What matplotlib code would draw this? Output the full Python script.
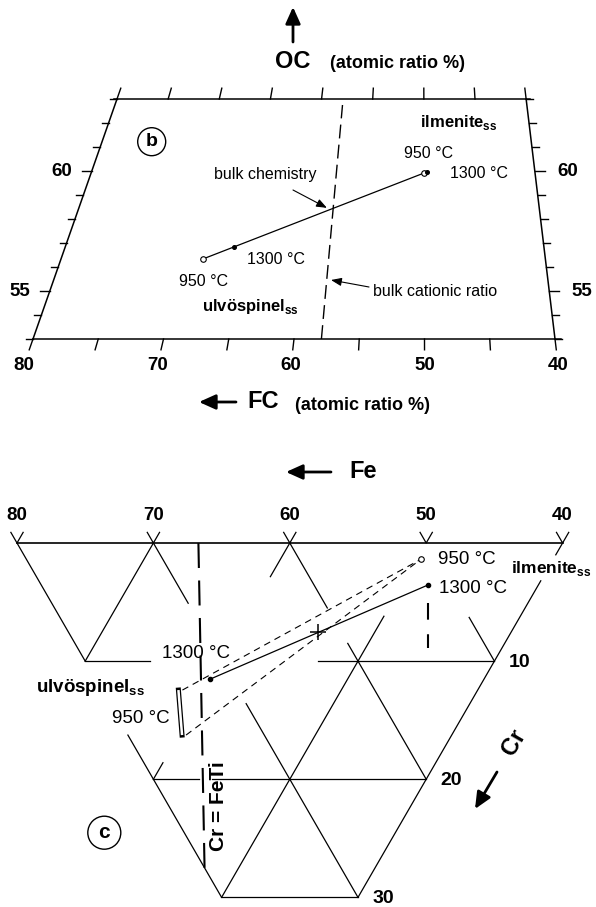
import numpy as np
import matplotlib
matplotlib.use("Agg")
import matplotlib.pyplot as plt
from matplotlib.patches import Circle

plt.rcParams['font.family'] = ['Liberation Sans', 'DejaVu Sans']
plt.rcParams['mathtext.fontset'] = 'custom'
plt.rcParams['mathtext.rm'] = 'Liberation Sans'
plt.rcParams['mathtext.bf'] = 'Liberation Sans:bold'

# ---------------- panel b : FC / OC atomic ratio (%) ----------------
fc_ticks = [80, 75, 70, 65, 60, 55, 50, 45, 40]
fc_labels = [80, 70, 60, 50, 40]
oc_ticks = [53, 54, 55, 56, 57, 58, 59, 60, 61, 62, 63]
oc_labels = [55, 60]

# ulvospinel 950, ulvospinel 1300, ilmenite 950, ilmenite 1300
b_fc = [68.3, 65.9, 50.0, 49.7]
b_oc = [56.33, 56.82, 59.93, 59.97]
b_bulk_fc, b_bulk_oc = 58.0, 58.38
b_cation_fc = [57.9, 57.9]
b_cation_oc = [53.0, 62.75]

# ---------------- panel c : Fe / Cr ----------------
fe_labels = [80, 70, 60, 50, 40]
cr_labels = [10, 20, 30]

c_ilm950 = (49.7, 1.38)
c_ilm1300 = (48.1, 3.56)
c_ulv1300 = (60.1, 11.54)
c_ulv950_fe = [61.94, 59.77]
c_ulv950_cr = [12.45, 16.26]
c_bulk = (54.16, 7.54)
c_ratio_fe = [66.7, 52.5]
c_ratio_cr = [0.0, 27.5]
c_ratio2_fe = [47.3, 45.4]
c_ratio2_cr = [5.1, 8.9]

# grid pieces actually drawn: (constant value, from, to)
grid_fe = [(70, 0, 10), (60, 0, 2.85), (60, 18.6, 20), (50, 6.2, 30),
           (40, 0, 1.0), (40, 3.2, 30)]
grid_sum = [(80, 0, 10), (80, 16.26, 30), (70, 0, 5.1), (70, 13.6, 30),
            (60, 0, 5.5), (60, 8.5, 20), (50, 6.3, 10)]
grid_cr = [(0, 80, 40), (10, 70, 65.25), (10, 52.9, 40),
           (20, 60, 56.66), (20, 55.7, 40), (30, 50, 40)]

# ---------------- layout (pixels) ----------------
B_X0, B_Y0, B_PX, B_PY = 33.0, 339.0, 13.05, 24.0
APEX_X, APEX_Y = 421.5, -771.0
C_X0, C_Y0, C_S = 17.0, 543.0, 13.64


def proj_b(fc, oc):
    fc = np.asarray(fc, float)
    oc = np.asarray(oc, float)
    y = B_Y0 - (oc - 53) * B_PY
    xb = B_X0 + (80 - fc) * B_PX
    f = (y - APEX_Y) / (B_Y0 - APEX_Y)
    return APEX_X + (xb - APEX_X) * f, y


def proj_c(fe, cr):
    fe = np.asarray(fe, float)
    cr = np.asarray(cr, float)
    x = C_X0 + (80 - fe) * C_S - cr * C_S / 2
    y = C_Y0 + cr * C_S * np.sqrt(3) / 2
    return x, y


fig = plt.figure(figsize=(5.96, 9.07), dpi=100)
ax = fig.add_axes([0, 0, 1, 1])
ax.set_xlim(0, 596)
ax.set_ylim(907, 0)
ax.axis('off')

K = 'black'
big_arrow = dict(arrowstyle='-|>,head_length=1.0,head_width=0.45',
                 mutation_scale=10, lw=2.0, color=K, shrinkA=0, shrinkB=0)
small_arrow = dict(arrowstyle='-|>,head_length=0.9,head_width=0.35',
                   mutation_scale=7, lw=0.8, color=K, shrinkA=0, shrinkB=0)

# ======== panel b ========
x, y = proj_b([80, 40], [53, 53])
ax.plot([x[0], x[1] + 6], y, color=K, lw=1.1)
x, y = proj_b([80, 40], [63, 63])
ax.plot([x[0] - 3, x[1] + 4], y, color=K, lw=1.1)
for fc in [80, 40]:
    x, y = proj_b([fc, fc], [53, 63])
    ax.plot(x, y, color=K, lw=1.1)

for fc in fc_ticks:
    x, y = proj_b([fc, fc], [53, 52.55])
    ax.plot(x, y, color=K, lw=1.0)
    x, y = proj_b([fc, fc], [63, 63.45])
    ax.plot(x, y, color=K, lw=1.0)
for oc in oc_ticks:
    L = 10 if oc in oc_labels else 7
    x, y = proj_b(80, oc)
    ax.plot([x - L, x], [y, y], color=K, lw=1.0)
    x, y = proj_b(40, oc)
    ax.plot([x, x + L], [y, y], color=K, lw=1.0)

for fc in fc_labels:
    x, y = proj_b(fc, 51.88)
    ax.text(x, y, str(fc), ha='center', va='center', fontsize=13.5, fontweight='bold')
for oc in oc_labels:
    x, y = proj_b(80, oc)
    ax.text(x - 30, y, str(oc), ha='center', va='center', fontsize=13.5, fontweight='bold')
    x, y = proj_b(40, oc)
    ax.text(x + 33, y, str(oc), ha='center', va='center', fontsize=13.5, fontweight='bold')

# bulk cationic ratio
x, y = proj_b(b_cation_fc, b_cation_oc)
ax.plot(x, y, color=K, lw=1.0, dashes=(10, 4.5))

# tie line and points
x, y = proj_b(b_fc, b_oc)
ax.plot([x[0], x[3]], [y[0], y[3]], color=K, lw=0.9)
ax.plot(x[[0, 2]], y[[0, 2]], 'o', ms=4, mfc='white', mec=K, mew=0.8)
ax.plot(x[[1, 3]], y[[1, 3]], 'o', ms=2.6, color=K)

bx, by = proj_b(b_bulk_fc, b_bulk_oc)
ax.annotate('', xy=(bx - 5, by - 2), xytext=(293, 190), arrowprops=small_arrow)
ax.annotate('', xy=(331, 280), xytext=(369, 287), arrowprops=small_arrow)

ax.text(265, 175, 'bulk chemistry', ha='center', va='center', fontsize=11.5)
ax.text(373, 291, 'bulk cationic ratio', ha='left', va='center', fontsize=11.5)
ax.text(428.5, 153, '950 °C', ha='center', va='center', fontsize=11.5)
ax.text(479.5, 173, '1300 °C', ha='center', va='center', fontsize=11.5)
ax.text(276, 260, '1300 °C', ha='center', va='center', fontsize=11.5)
ax.text(204, 281.5, '950 °C', ha='center', va='center', fontsize=11.5)
ax.text(420, 122, r'ilmenite$_{\mathbf{ss}}$', ha='left', va='center',
        fontsize=12, fontweight='bold')
ax.text(202, 306, r'ulvöspinel$_{\mathbf{ss}}$', ha='left', va='center',
        fontsize=12, fontweight='bold')

ax.add_patch(Circle((151.7, 141.7), 14, fill=False, ec=K, lw=1.0))
ax.text(151.7, 142, 'b', ha='center', va='center', fontsize=14, fontweight='bold')

# axis titles
ax.annotate('', xy=(293, 7), xytext=(293, 42), arrowprops=big_arrow)
ax.text(292.5, 62, 'OC', ha='center', va='center', fontsize=17, fontweight='bold')
ax.text(330, 64, '(atomic ratio %)', ha='left', va='center', fontsize=13, fontweight='bold')
ax.annotate('', xy=(199, 402), xytext=(236, 402), arrowprops=big_arrow)
ax.text(263, 402, 'FC', ha='center', va='center', fontsize=17, fontweight='bold')
ax.text(295, 405, '(atomic ratio %)', ha='left', va='center', fontsize=13, fontweight='bold')

# ======== panel c ========
for fe, a, b in grid_fe:
    x, y = proj_c([fe, fe], [a, b])
    ax.plot(x, y, color=K, lw=0.9)
for s, a, b in grid_sum:
    x, y = proj_c([s - a, s - b], [a, b])
    ax.plot(x, y, color=K, lw=0.9)
for cr, a, b in grid_cr:
    x, y = proj_c([a, b], [cr, cr])
    ax.plot(x, y, color=K, lw=1.2 if cr == 0 else 0.9)

# little V ticks above the Fe axis
for fe in fe_labels:
    x, y = proj_c([fe + 0.9, fe, fe], [-0.9, 0, -0.9])
    ax.plot(x, y, color=K, lw=0.9)
    x, y = proj_c(fe, 0)
    ax.annotate(str(fe), xy=(x, y), xytext=(0, 20), textcoords='offset points',
                ha='center', va='center', fontsize=13.5, fontweight='bold')
for cr in cr_labels:
    x, y = proj_c(40, cr)
    ax.text(x + 25, y + 1, str(cr), ha='center', va='center', fontsize=14, fontweight='bold')

# Cr = FeTi lines
x, y = proj_c(c_ratio_fe, c_ratio_cr)
ax.plot(x, y, color=K, lw=1.5, dashes=(12, 6))
x, y = proj_c(c_ratio2_fe, c_ratio2_cr)
ax.plot(x, y, color=K, lw=1.5, dashes=(8, 7))

# 950 C tie lines (dashed)
xi, yi = proj_c(*c_ilm950)
xu, yu = proj_c(c_ulv950_fe, c_ulv950_cr)
for k in range(2):
    ax.plot([xu[k] + 4, xi], [yu[k], yi], color=K, lw=0.8, dashes=(6, 4.5))
ax.plot(xu, yu, color=K, lw=3.6, solid_capstyle='projecting')
ax.plot(xu, yu, color='white', lw=1.8, solid_capstyle='butt')

# 1300 C tie line
x, y = proj_c([c_ulv1300[0], c_ilm1300[0]], [c_ulv1300[1], c_ilm1300[1]])
ax.plot(x, y, color=K, lw=0.9)
ax.plot(x, y, 'o', ms=3, color=K)
ax.plot(xi, yi, 'o', ms=4, mfc='white', mec=K, mew=0.8)
x, y = proj_c(*c_bulk)
ax.plot(x, y, '+', ms=12, mew=1.1, color=K)

ax.text(437.7, 559.5, '950 °C', ha='left', va='center', fontsize=13.5)
ax.text(438.7, 588.3, '1300 °C', ha='left', va='center', fontsize=13.5)
ax.text(162.3, 653, '1300 °C', ha='left', va='center', fontsize=13.5)
ax.text(111.7, 718.5, '950 °C', ha='left', va='center', fontsize=13.5)
ax.text(511, 568, r'ilmenite$_{\mathbf{ss}}$', ha='left', va='center',
        fontsize=12.5, fontweight='bold')
ax.text(36, 687, r'ulvöspinel$_{\mathbf{ss}}$', ha='left', va='center',
        fontsize=13.5, fontweight='bold')
ax.text(219, 806, 'Cr = FeTi', ha='center', va='center', rotation=90,
        fontsize=15, fontweight='bold')

ax.annotate('', xy=(286, 472), xytext=(331, 472), arrowprops=big_arrow)
ax.text(363.5, 472, 'Fe', ha='center', va='center', fontsize=17, fontweight='bold')
ax.annotate('', xy=(475, 809), xytext=(497, 772), arrowprops=big_arrow)
ax.text(514, 742, 'Cr', ha='center', va='center', rotation=60,
        fontsize=17, fontweight='bold')

ax.add_patch(Circle((104.3, 832.7), 16.5, fill=False, ec=K, lw=1.0))
ax.text(104.3, 833, 'c', ha='center', va='center', fontsize=15, fontweight='bold')

fig.savefig('out.png', dpi=100)
